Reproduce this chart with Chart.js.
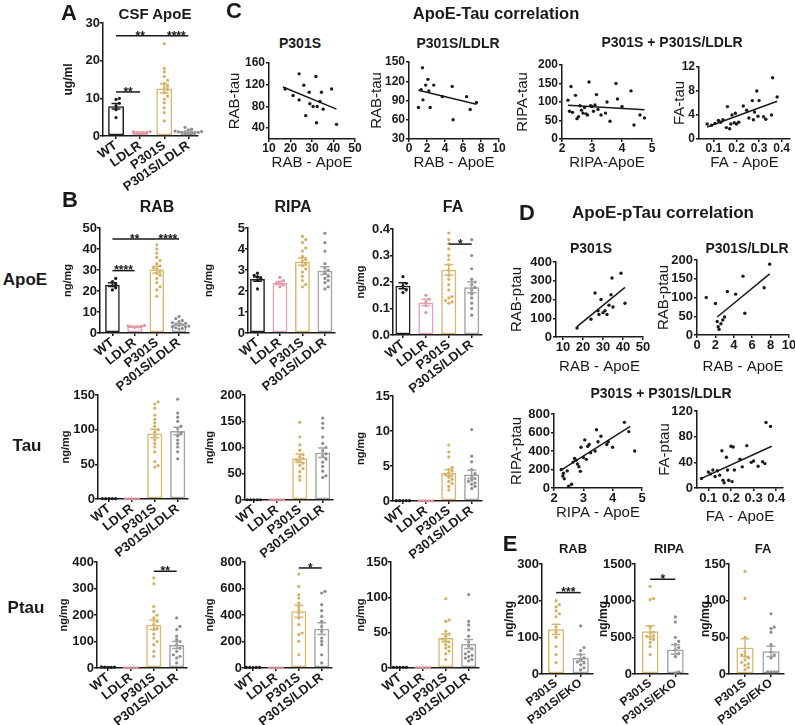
<!DOCTYPE html>
<html>
<head>
<meta charset="utf-8">
<title>ApoE / Tau figure</title>
<script src="https://cdn.jsdelivr.net/npm/chart.js@4.4.1/dist/chart.umd.min.js"></script>
<style>
  html, body { margin: 0; padding: 0; background: #fff; }
  #fig { position: relative; width: 795px; height: 725px; overflow: hidden; font-family: "Liberation Sans", Arial, sans-serif; color: #1a1a1a; }
  #fig canvas { position: absolute; }
  .lbl { position: absolute; white-space: nowrap; transform: translate(-50%, -50%); font-weight: bold; line-height: 1; }
</style>
</head>
<body>
<div id="fig"></div>
<script>
const FONT = '"Liberation Sans", Arial, sans-serif';
const INK = '#1a1a1a';

// groups and colours
const groups = ['WT', 'LDLR', 'P301S', 'P301S/LDLR'];
const groupsE = ['P301S', 'P301S/EKO'];
const barColors = ['#1f1f1f', '#e6a1ab', '#d9b76f', '#a3a3a3'];
const dotColors = ['#1a1a1a', '#e08f9b', '#d4b062', '#8d8d8d'];
const barColorsE = ['#d9b76f', '#a3a3a3'];
const dotColorsE = ['#d4b062', '#8d8d8d'];

// ---- A: CSF ApoE (ug/ml) ----
const csfMean = [7.9, 1.0, 12.6, 1.2];
const csfSem = [0.75, 0.07, 1.2, 0.13];
const csfDots = [
  [10.0, 9.7, 8.7, 8.0, 7.0, 4.9],
  [1.2, 1.1, 1.0, 1.0, 0.9, 0.8],
  [24.5, 18.0, 17.0, 15.8, 14.8, 14.0, 13.2, 12.8, 12.3, 11.5, 10.6, 9.8, 8.8, 7.5, 6.2, 4.0],
  [2.3, 1.8, 1.6, 1.4, 1.3, 1.2, 1.1, 1.0, 1.0, 0.9, 0.8, 0.7, 0.6]
];
const csfSig = [[0, 1, 11.7, '**'], [0, 2, 26.6, '**'], [2, 3, 26.6, '****']];

// ---- B: ApoE row (ng/mg) ----
const rabApoeMean = [23.0, 3.1, 30.2, 4.1];
const rabApoeSem = [0.9, 0.15, 1.6, 0.45];
const rabApoeDots = [
  [26.0, 24.5, 23.5, 22.5, 21.5, 20.5],
  [3.6, 3.4, 3.2, 3.0, 2.9, 2.7],
  [42.0, 40.0, 38.0, 36.0, 34.5, 33.0, 32.0, 31.0, 30.5, 29.5, 28.5, 27.5, 26.0, 24.0, 22.0, 20.5, 17.5],
  [7.8, 6.8, 6.0, 5.4, 5.0, 4.6, 4.2, 3.9, 3.6, 3.3, 3.0, 2.8, 2.5, 2.2, 1.9]
];
const rabApoeSig = [[0, 1, 29.7, '****'], [0, 2, 44.8, '**'], [2, 3, 44.8, '****']];

const ripaApoeMean = [2.57, 2.38, 3.4, 2.97];
const ripaApoeSem = [0.1, 0.07, 0.17, 0.19];
const ripaApoeDots = [
  [2.85, 2.75, 2.68, 2.6, 2.5, 2.1],
  [2.65, 2.5, 2.42, 2.35, 2.28, 2.2],
  [4.6, 4.45, 4.3, 4.05, 3.9, 3.65, 3.5, 3.4, 3.3, 3.2, 3.05, 2.9, 2.7, 2.5, 2.3, 2.2],
  [4.75, 4.3, 3.9, 3.3, 3.1, 3.0, 2.85, 2.7, 2.6, 2.5, 2.4, 2.2, 2.1]
];

const faApoeMean = [0.186, 0.123, 0.246, 0.18];
const faApoeSem = [0.011, 0.012, 0.02, 0.021];
const faApoeDots = [
  [0.22, 0.195, 0.185, 0.17, 0.16],
  [0.15, 0.135, 0.125, 0.11, 0.085],
  [0.385, 0.36, 0.345, 0.325, 0.3, 0.285, 0.265, 0.245, 0.225, 0.21, 0.19, 0.17, 0.145, 0.14, 0.13, 0.125, 0.12],
  [0.36, 0.3, 0.25, 0.21, 0.2, 0.19, 0.18, 0.17, 0.155, 0.14, 0.12, 0.1, 0.075]
];
const faApoeSig = [[2, 3, 0.343, '*']];

// ---- B: Tau row ----
const rabTauMean = [0.5, 0.3, 94.5, 98];
const rabTauSem = [0, 0, 6, 5.5];
const rabTauDots = [
  [0.5, 0.5, 0.5, 0.5, 0.5],
  [0.3, 0.3, 0.3, 0.3, 0.3],
  [140, 137, 131, 121, 115, 110, 105, 100, 96, 90, 85, 80, 75, 68, 54, 48, 46],
  [144, 124, 118, 112, 105, 102, 95, 91, 85, 80, 75, 68, 58]
];

const ripaTauMean = [0.5, 0.3, 79.5, 90];
const ripaTauSem = [0, 0, 8, 9];
const ripaTauDots = [
  [0.5, 0.5, 0.5, 0.5, 0.5],
  [0.3, 0.3, 0.3, 0.3, 0.3],
  [148, 120, 105, 95, 86, 82, 79, 76, 74, 70, 66, 60, 54, 45, 38],
  [156, 146, 137, 120, 108, 100, 94, 88, 84, 78, 72, 64, 55, 46, 43]
];

const faTauMean = [0.05, 0.03, 4.05, 3.8];
const faTauSem = [0, 0, 0.45, 0.6];
const faTauDots = [
  [0.05, 0.05, 0.05, 0.05, 0.05],
  [0.03, 0.03, 0.03, 0.03, 0.03],
  [8.0, 7.0, 6.3, 4.8, 4.5, 4.3, 4.0, 3.8, 3.6, 3.4, 3.1, 2.8, 2.5, 2.1, 1.6],
  [10.2, 6.4, 5.6, 4.5, 3.9, 3.5, 3.2, 3.0, 2.8, 2.6, 2.4, 2.1, 1.8]
];

// ---- B: Ptau row ----
const rabPtauMean = [3, 1, 163, 87];
const rabPtauSem = [0.5, 0, 18, 13];
const rabPtauDots = [
  [4, 3, 3, 2, 2],
  [1, 1, 1, 1, 1],
  [340, 318, 232, 214, 199, 189, 176, 164, 151, 145, 128, 113, 100, 88, 63, 44],
  [189, 157, 145, 120, 107, 100, 88, 75, 63, 50, 44, 38, 19]
];
const rabPtauSig = [[2, 3, 365, '**']];

const ripaPtauMean = [4, 2, 428, 297];
const ripaPtauSem = [0, 0, 45, 45];
const ripaPtauDots = [
  [5, 5, 4, 4, 3],
  [2, 2, 2, 2, 2],
  [709, 616, 553, 528, 490, 465, 440, 415, 377, 327, 264, 252, 201, 100],
  [579, 566, 478, 433, 390, 352, 314, 277, 226, 201, 176, 100, 38]
];
const ripaPtauSig = [[2, 3, 755, '*']];

const faPtauMean = [1, 0.5, 42.5, 34];
const faPtauSem = [0, 0, 5.5, 6.5];
const faPtauDots = [
  [1, 1, 1, 1, 1],
  [0.5, 0.5, 0.5, 0.5, 0.5],
  [98, 68, 66, 52, 48, 45, 41, 38, 37, 33, 30, 28, 24, 20, 12],
  [104, 66, 61, 54, 45, 37, 31, 27, 23, 20, 18, 16, 14, 12, 10]
];

// ---- E: P301S vs P301S/EKO ----
const eRabMean = [122, 44];
const eRabSem = [14, 9];
const eRabDots = [
  [200, 189, 183, 172, 164, 156, 128, 114, 100, 75, 53, 31],
  [131, 72, 64, 53, 44, 40, 33, 30, 25, 17, 11]
];
const eRabSig = [[0, 1, 222, '***']];

const eRipaMean = [583, 333];
const eRipaSem = [75, 65];
const eRipaDots = [
  [1194, 1028, 1014, 639, 569, 560, 520, 514, 480, 472, 431, 375, 264],
  [778, 708, 500, 444, 403, 361, 330, 280, 236, 28, 14]
];
const eRipaSig = [[0, 1, 1292, '*']];

const eFaMean = [36, 31];
const eFaSem = [12, 7];
const eFaDots = [
  [140, 103, 50, 30, 26, 24, 22, 19, 16, 14, 12, 9, 6],
  [82, 64, 62, 57, 40, 30, 26, 22, 3, 3, 3, 3]
];

// ---- C: ApoE vs Tau correlations ----
const c1ApoE = [17.5, 21.2, 24.0, 24.0, 26.2, 27.1, 28.7, 29.0, 30.5, 31.8, 32.1, 32.4, 33.7, 34.4, 35.2, 39.1, 41.4];
const c1Tau = [112, 100, 140, 92, 119, 63, 106, 85, 80, 135, 50, 80, 89, 106, 75, 112, 47];
const c1FitX = [16.5, 41.4];
const c1FitY = [115.7, 75.1];

const c2ApoE = [1.05, 1.35, 1.5, 1.55, 1.85, 2.1, 2.2, 2.35, 2.75, 3.7, 4.8, 4.9, 6.4, 6.8, 7.5];
const c2Tau = [79, 107, 141, 91, 114, 123, 105, 79, 114, 96, 112, 60, 96, 76, 87];
const c2FitX = [1.05, 7.5];
const c2FitY = [106, 84];

const c3ApoE = [2.2, 2.25, 2.3, 2.35, 2.45, 2.5, 2.55, 2.6, 2.65, 2.7, 2.75, 2.8, 2.85, 2.9, 2.95, 3.0, 3.05, 3.1, 3.15, 3.2, 3.3, 3.45, 3.5, 3.6, 3.8, 3.85, 4.0, 4.3, 4.4, 4.6, 4.75];
const c3Tau = [105, 75, 142, 72, 118, 55, 60, 90, 78, 70, 85, 68, 65, 154, 90, 88, 75, 92, 120, 80, 65, 70, 100, 48, 150, 108, 88, 130, 38, 65, 57];
const c3FitX = [2.2, 4.75];
const c3FitY = [91, 79];

const c4ApoE = [0.07, 0.09, 0.105, 0.12, 0.13, 0.14, 0.155, 0.16, 0.17, 0.175, 0.18, 0.19, 0.195, 0.2, 0.21, 0.23, 0.245, 0.255, 0.27, 0.275, 0.28, 0.29, 0.295, 0.3, 0.32, 0.33, 0.355, 0.36, 0.38];
const c4Tau = [2.5, 2.3, 2.6, 3.1, 2.8, 3.2, 1.9, 5.4, 1.7, 2.5, 4.0, 2.7, 4.3, 2.5, 2.8, 5.5, 4.8, 3.5, 6.4, 3.2, 4.5, 8.0, 3.8, 6.4, 3.7, 3.3, 4.0, 10.2, 7.0];
const c4FitX = [0.07, 0.38];
const c4FitY = [2.0, 6.3];

// ---- D: ApoE vs pTau correlations ----
const d1ApoE = [17, 24, 26, 27.5, 28, 29, 30, 31, 32, 33, 34, 34.5, 35, 39, 41];
const d1Ptau = [48, 95, 235, 140, 120, 200, 130, 140, 120, 170, 225, 315, 160, 340, 180];
const d1FitX = [17, 41];
const d1FitY = [55, 265];

const d2ApoE = [1.0, 2.0, 2.2, 2.3, 2.4, 2.6, 2.8, 3.0, 3.3, 4.2, 5.0, 5.2, 7.3, 7.9];
const d2Ptau = [100, 84, 36, 22, 15, 30, 40, 48, 116, 109, 157, 58, 126, 189];
const d2FitX = [2.2, 7.9];
const d2FitY = [48, 163];

const d3ApoE = [2.25, 2.3, 2.32, 2.35, 2.45, 2.5, 2.6, 2.65, 2.7, 2.75, 2.8, 2.85, 2.9, 2.92, 3.0, 3.05, 3.1, 3.15, 3.2, 3.25, 3.4, 3.45, 3.5, 3.6, 3.8, 3.85, 4.0, 4.4, 4.55, 4.75];
const d3Ptau = [200, 130, 160, 100, 185, 20, 40, 280, 320, 300, 260, 230, 180, 440, 330, 520, 310, 450, 470, 380, 400, 630, 500, 560, 470, 500, 440, 710, 610, 400];
const d3FitX = [2.2, 4.6];
const d3FitY = [185, 665];

const d4ApoE = [0.07, 0.1, 0.11, 0.12, 0.13, 0.14, 0.15, 0.16, 0.165, 0.17, 0.18, 0.185, 0.19, 0.2, 0.205, 0.21, 0.215, 0.24, 0.25, 0.27, 0.29, 0.3, 0.32, 0.34, 0.35, 0.355, 0.375];
const d4Ptau = [15, 25, 22, 28, 18, 27, 20, 58, 12, 8, 48, 28, 12, 65, 10, 64, 28, 45, 33, 66, 40, 42, 34, 41, 38, 102, 96];
const d4FitX = [0.07, 0.38];
const d4FitY = [15, 65];

// ---------------------------------------------------------------
const fig = document.getElementById('fig');

function addText(txt, x, y, size, weight) {
  const d = document.createElement('div');
  d.className = 'lbl';
  d.textContent = txt;
  d.style.left = x + 'px';
  d.style.top = y + 'px';
  d.style.fontSize = size + 'px';
  if (weight) d.style.fontWeight = weight;
  fig.appendChild(d);
}

function addCanvas(x, y, w, h) {
  const c = document.createElement('canvas');
  c.width = w;
  c.height = h;
  c.style.left = x + 'px';
  c.style.top = y + 'px';
  c.style.width = w + 'px';
  c.style.height = h + 'px';
  fig.appendChild(c);
  return c;
}

// GraphPad-like axis: black line, short outward ticks, fixed tick list
function axis(o) {
  return {
    type: 'linear',
    min: o.min,
    max: o.max,
    offset: false,
    afterBuildTicks: (s) => { s.ticks = o.ticks.map((v) => ({ value: v })); },
    afterFit: (s) => {
      if (o.width !== undefined) s.width = o.width;
      if (o.height !== undefined) s.height = o.height;
    },
    border: { display: true, color: INK, width: 1.5 },
    grid: { display: true, offset: false, drawOnChartArea: false, drawTicks: true, tickLength: 3, color: INK, lineWidth: 1.5 },
    ticks: {
      autoSkip: false,
      color: INK,
      padding: o.pad !== undefined ? o.pad : 1,
      maxRotation: o.rot || 0,
      minRotation: o.rot || 0,
      font: { family: FONT, size: o.tickSize, weight: 'bold', lineHeight: 1 },
      callback: o.fmt || ((v) => String(v)),
    },
    title: o.title
      ? { display: true, text: o.title, color: INK, padding: 0, font: { family: FONT, size: o.titleSize, weight: o.titleWeight || 'normal' } }
      : { display: false },
  };
}

// spread dots of one group sideways so they don't overlap (beeswarm)
function swarm(vals, pxPerUnit, spacingPx) {
  const step = 3.3;
  const placed = [];
  return vals.slice().sort((a, b) => a - b).map((v) => {
    const py = v * pxPerUnit;
    let k = 0, off = 0;
    while (true) {
      off = (k % 2 ? 1 : -1) * Math.ceil(k / 2) * step;
      const hit = placed.some((p) => Math.hypot(p[0] - off, p[1] - py) < step - 0.01);
      if (!hit) break;
      k++;
    }
    placed.push([off, py]);
    return { dx: off / spacingPx, v };
  });
}

// error bars + significance brackets
function barExtras(mean, sem, colors, sig) {
  return {
    id: 'barExtras',
    afterDatasetsDraw(chart) {
      const { ctx, scales: { x, y } } = chart;
      ctx.save();
      ctx.lineWidth = 1.5;
      mean.forEach((m, i) => {
        if (!sem[i]) return;
        const cx = x.getPixelForValue(i);
        const top = y.getPixelForValue(m + sem[i]);
        const bot = y.getPixelForValue(Math.max(m - sem[i], 0));
        ctx.strokeStyle = colors[i];
        ctx.beginPath();
        ctx.moveTo(cx, bot); ctx.lineTo(cx, top);
        ctx.moveTo(cx - 4.5, top); ctx.lineTo(cx + 4.5, top);
        ctx.moveTo(cx - 4.5, bot); ctx.lineTo(cx + 4.5, bot);
        ctx.stroke();
      });
      ctx.strokeStyle = INK;
      ctx.fillStyle = INK;
      ctx.font = 'bold 12px ' + FONT;
      ctx.textAlign = 'center';
      ctx.textBaseline = 'alphabetic';
      (sig || []).forEach(([a, b, v, stars]) => {
        const x0 = x.getPixelForValue(a), x1 = x.getPixelForValue(b), yy = y.getPixelForValue(v);
        ctx.beginPath(); ctx.moveTo(x0, yy); ctx.lineTo(x1, yy); ctx.stroke();
        ctx.fillText(stars, (x0 + x1) / 2, yy + 3.8);
      });
      ctx.restore();
    },
  };
}

function barPanel(p) {
  const cats = p.cats || groups;
  const colors = p.colors || barColors;
  const dcols = p.dotColors || dotColors;
  const xMax = p.xMax !== undefined ? p.xMax : 3.45;
  const xMin = -(p.firstX - p.axisX) / p.spacing;
  const plotW = Math.round((xMax - xMin) * p.spacing);
  const tlh = p.titleSize * 1.2;
  const ml = Math.round(p.axisX - (p.yTitleX - tlh / 2));
  const mt = 14, mr = 20, mb = 90;
  const W = ml + plotW + mr, H = mt + (p.bottom - p.top) + mb;
  const canvas = addCanvas(p.axisX - ml, p.top - mt, W, H);
  const pxPerUnit = (p.bottom - p.top) / p.yMax;
  const datasets = p.dots.map((vals, g) => ({
    type: 'scatter',
    data: swarm(vals, pxPerUnit, p.spacing).map((d) => ({ x: g + d.dx, y: d.v })),
    backgroundColor: dcols[g],
    borderWidth: 0,
    pointRadius: 1.6,
    clip: false,
    order: 0,
  }));
  datasets.push({
    type: 'bar',
    data: p.mean.map((v, i) => ({ x: i, y: v })),
    backgroundColor: 'rgba(255,255,255,0)',
    borderColor: colors,
    borderWidth: 1.5,
    borderSkipped: false,
    barPercentage: 0.66,
    categoryPercentage: 1,
    order: 1,
  });
  new Chart(canvas, {
    type: 'bar',
    data: { datasets },
    options: {
      responsive: false,
      animation: false,
      events: [],
      layout: { padding: { top: mt, right: mr, left: 0, bottom: 0 } },
      plugins: { legend: { display: false }, tooltip: { enabled: false } },
      scales: {
        x: axis({ min: xMin, max: xMax, ticks: cats.map((c, i) => i), height: mb, tickSize: p.xTickSize || 13, rot: p.rot || 38, pad: 0, fmt: (v) => cats[v] }),
        y: axis({ min: 0, max: p.yMax, ticks: p.yTicks, width: ml, tickSize: 13, pad: 0, fmt: p.fmt, title: p.yTitle || 'ng/mg', titleSize: p.titleSize, titleWeight: 'bold' }),
      },
    },
    plugins: [barExtras(p.mean, p.sem, colors, p.sig)],
  });
}

function scatterPanel(p) {
  const [L, T, R, B] = p.rect;
  const tlh = p.titleSize * 1.2;
  const ml = Math.round(L - (p.yTitleX - tlh / 2));
  const mb = Math.round(p.xTitleY + tlh / 2 - B);
  const mt = 12, mr = 14;
  const W = ml + (R - L) + mr, H = mt + (B - T) + mb;
  const canvas = addCanvas(L - ml, T - mt, W, H);
  new Chart(canvas, {
    type: 'scatter',
    data: {
      datasets: [
        { data: p.xs.map((x, i) => ({ x, y: p.ys[i] })), backgroundColor: INK, borderWidth: 0, pointRadius: 1.7, clip: false },
        { type: 'line', data: p.fitX.map((x, i) => ({ x, y: p.fitY[i] })), borderColor: INK, borderWidth: 1.5, pointRadius: 0, fill: false },
      ],
    },
    options: {
      responsive: false,
      animation: false,
      events: [],
      layout: { padding: { top: mt, right: mr, left: 0, bottom: 0 } },
      plugins: { legend: { display: false }, tooltip: { enabled: false } },
      scales: {
        x: axis({ min: p.xMin, max: p.xMax, ticks: p.xTicks, height: mb, tickSize: p.tickSize, title: p.xTitle, titleSize: p.titleSize }),
        y: axis({ min: p.yMin, max: p.yMax, ticks: p.yTicks, width: ml, tickSize: p.tickSize, title: p.yTitle, titleSize: p.titleSize }),
      },
    },
  });
}

// ---- panel A ----
barPanel({ axisX: 103, top: 23, bottom: 136, firstX: 116, spacing: 24, xMax: 3.4, yMax: 30, yTicks: [0, 10, 20, 30], rot: 35,
  yTitle: 'ug/ml', yTitleX: 68, titleSize: 12, mean: csfMean, sem: csfSem, dots: csfDots, sig: csfSig });

// ---- panel B ----
barPanel({ axisX: 100, top: 228, bottom: 333, firstX: 112.5, spacing: 22.3, yMax: 50, yTicks: [0, 10, 20, 30, 40, 50],
  yTitleX: 68, titleSize: 11, mean: rabApoeMean, sem: rabApoeSem, dots: rabApoeDots, sig: rabApoeSig });
barPanel({ axisX: 248, top: 228, bottom: 333, firstX: 257.5, spacing: 22.5, yMax: 5, yTicks: [0, 1, 2, 3, 4, 5],
  yTitleX: 209, titleSize: 11, mean: ripaApoeMean, sem: ripaApoeSem, dots: ripaApoeDots });
barPanel({ axisX: 393, top: 229, bottom: 335, firstX: 403, spacing: 23, yMax: 0.4, yTicks: [0, 0.1, 0.2, 0.3, 0.4],
  fmt: (v) => v.toFixed(1), yTitleX: 361, titleSize: 11, mean: faApoeMean, sem: faApoeSem, dots: faApoeDots, sig: faApoeSig });

barPanel({ axisX: 98, top: 395, bottom: 499, firstX: 109, spacing: 23, yMax: 150, yTicks: [0, 50, 100, 150],
  yTitleX: 66, titleSize: 11, mean: rabTauMean, sem: rabTauSem, dots: rabTauDots });
barPanel({ axisX: 245, top: 395, bottom: 500, firstX: 254, spacing: 23, yMax: 200, yTicks: [0, 50, 100, 150, 200],
  yTitleX: 210, titleSize: 11, mean: ripaTauMean, sem: ripaTauSem, dots: ripaTauDots });
barPanel({ axisX: 393, top: 396, bottom: 501, firstX: 403, spacing: 23, yMax: 15, yTicks: [0, 5, 10, 15],
  yTitleX: 361, titleSize: 11, mean: faTauMean, sem: faTauSem, dots: faTauDots });

barPanel({ axisX: 97, top: 562, bottom: 668, firstX: 108, spacing: 23, yMax: 400, yTicks: [0, 100, 200, 300, 400],
  yTitleX: 64, titleSize: 11, mean: rabPtauMean, sem: rabPtauSem, dots: rabPtauDots, sig: rabPtauSig });
barPanel({ axisX: 245, top: 562, bottom: 668, firstX: 253, spacing: 23, yMax: 800, yTicks: [0, 200, 400, 600, 800],
  yTitleX: 210, titleSize: 11, mean: ripaPtauMean, sem: ripaPtauSem, dots: ripaPtauDots, sig: ripaPtauSig });
barPanel({ axisX: 391, top: 562, bottom: 668, firstX: 400, spacing: 23, yMax: 150, yTicks: [0, 50, 100, 150],
  yTitleX: 361, titleSize: 11, mean: faPtauMean, sem: faPtauSem, dots: faPtauDots });

// ---- panel E ----
const eStyle = { cats: groupsE, colors: barColorsE, dotColors: dotColorsE, xMax: 1.5, rot: 38, xTickSize: 12, titleSize: 12 };
barPanel({ ...eStyle, axisX: 542, top: 564, bottom: 674, firstX: 556, spacing: 24.5, yMax: 300, yTicks: [0, 100, 200, 300],
  yTitleX: 509, mean: eRabMean, sem: eRabSem, dots: eRabDots, sig: eRabSig });
barPanel({ ...eStyle, axisX: 635, top: 564, bottom: 674, firstX: 650, spacing: 25, yMax: 1500, yTicks: [0, 500, 1000, 1500],
  yTitleX: 603, mean: eRipaMean, sem: eRipaSem, dots: eRipaDots, sig: eRipaSig });
barPanel({ ...eStyle, axisX: 729, top: 564, bottom: 674, firstX: 745, spacing: 26, yMax: 150, yTicks: [0, 50, 100, 150],
  yTitleX: 705, mean: eFaMean, sem: eFaSem, dots: eFaDots });

// ---- panel C ----
scatterPanel({ rect: [269, 63, 355, 139], xMin: 10, xMax: 50, xTicks: [10, 20, 30, 40, 50], yMin: 20, yMax: 160, yTicks: [40, 80, 120, 160],
  xs: c1ApoE, ys: c1Tau, fitX: c1FitX, fitY: c1FitY, xTitle: 'RAB - ApoE', yTitle: 'RAB-tau', yTitleX: 235, xTitleY: 163, titleSize: 15, tickSize: 12 });
scatterPanel({ rect: [409, 62, 499, 139], xMin: 0, xMax: 10, xTicks: [0, 2, 4, 6, 8, 10], yMin: 30, yMax: 150, yTicks: [30, 60, 90, 120, 150],
  xs: c2ApoE, ys: c2Tau, fitX: c2FitX, fitY: c2FitY, xTitle: 'RAB - ApoE', yTitle: 'RAB-tau', yTitleX: 377, xTitleY: 163, titleSize: 15, tickSize: 12 });
scatterPanel({ rect: [562, 65, 652, 139], xMin: 2, xMax: 5, xTicks: [2, 3, 4, 5], yMin: 0, yMax: 200, yTicks: [0, 50, 100, 150, 200],
  xs: c3ApoE, ys: c3Tau, fitX: c3FitX, fitY: c3FitY, xTitle: 'RIPA-ApoE', yTitle: 'RIPA-tau', yTitleX: 523, xTitleY: 163, titleSize: 15, tickSize: 12 });
scatterPanel({ rect: [699, 67, 790, 139], xMin: 0.034, xMax: 0.437, xTicks: [0.1, 0.2, 0.3, 0.4], yMin: 0, yMax: 12, yTicks: [0, 4, 8, 12],
  xs: c4ApoE, ys: c4Tau, fitX: c4FitX, fitY: c4FitY, xTitle: 'FA - ApoE', yTitle: 'FA-tau', yTitleX: 680, xTitleY: 163, titleSize: 15, tickSize: 12 });

// ---- panel D ----
scatterPanel({ rect: [556, 262, 643, 337], xMin: 6.5, xMax: 50, xTicks: [10, 20, 30, 40, 50], yMin: 0, yMax: 400, yTicks: [0, 100, 200, 300, 400],
  xs: d1ApoE, ys: d1Ptau, fitX: d1FitX, fitY: d1FitY, xTitle: 'RAB - ApoE', yTitle: 'RAB-ptau', yTitleX: 517, xTitleY: 367, titleSize: 15, tickSize: 13 });
scatterPanel({ rect: [697, 260, 789, 335], xMin: 0, xMax: 10, xTicks: [0, 2, 4, 6, 8, 10], yMin: 0, yMax: 200, yTicks: [0, 50, 100, 150, 200],
  xs: d2ApoE, ys: d2Ptau, fitX: d2FitX, fitY: d2FitY, xTitle: 'RAB - ApoE', yTitle: 'RAB-ptau', yTitleX: 664, xTitleY: 367, titleSize: 15, tickSize: 13 });
scatterPanel({ rect: [554, 414, 642, 488], xMin: 2, xMax: 5, xTicks: [2, 3, 4, 5], yMin: 0, yMax: 800, yTicks: [0, 200, 400, 600, 800],
  xs: d3ApoE, ys: d3Ptau, fitX: d3FitX, fitY: d3FitY, xTitle: 'RIPA - ApoE', yTitle: 'RIPA-ptau', yTitleX: 517, xTitleY: 513, titleSize: 15, tickSize: 13 });
scatterPanel({ rect: [697, 411, 783, 488], xMin: 0.05, xMax: 0.43, xTicks: [0.1, 0.2, 0.3, 0.4], yMin: 0, yMax: 120, yTicks: [0, 40, 80, 120],
  xs: d4ApoE, ys: d4Ptau, fitX: d4FitX, fitY: d4FitY, xTitle: 'FA - ApoE', yTitle: 'FA-ptau', yTitleX: 665, xTitleY: 517, titleSize: 15, tickSize: 13 });

// ---- titles and panel letters ----
addText('A', 69, 13, 22);
addText('CSF ApoE', 155, 13, 15);
addText('B', 70, 200, 22);
addText('RAB', 157, 207, 16);
addText('RIPA', 293, 207, 16);
addText('FA', 453, 207, 16);
addText('ApoE', 25, 279, 17);
addText('Tau', 27, 445, 17);
addText('Ptau', 26, 607, 17);
addText('C', 234, 11, 22);
addText('ApoE-Tau correlation', 496, 13, 16.5);
addText('P301S', 300, 43, 14);
addText('P301S/LDLR', 458, 43, 14);
addText('P301S + P301S/LDLR', 672, 42, 14);
addText('D', 527, 213, 22);
addText('ApoE-pTau correlation', 663, 212, 17);
addText('P301S', 591, 248, 14);
addText('P301S/LDLR', 747, 248, 14);
addText('P301S + P301S/LDLR', 661, 393, 14);
addText('E', 510, 544, 22);
addText('RAB', 573, 548, 13);
addText('RIPA', 669, 548, 13);
addText('FA', 763, 548, 13);
</script>
</body>
</html>
